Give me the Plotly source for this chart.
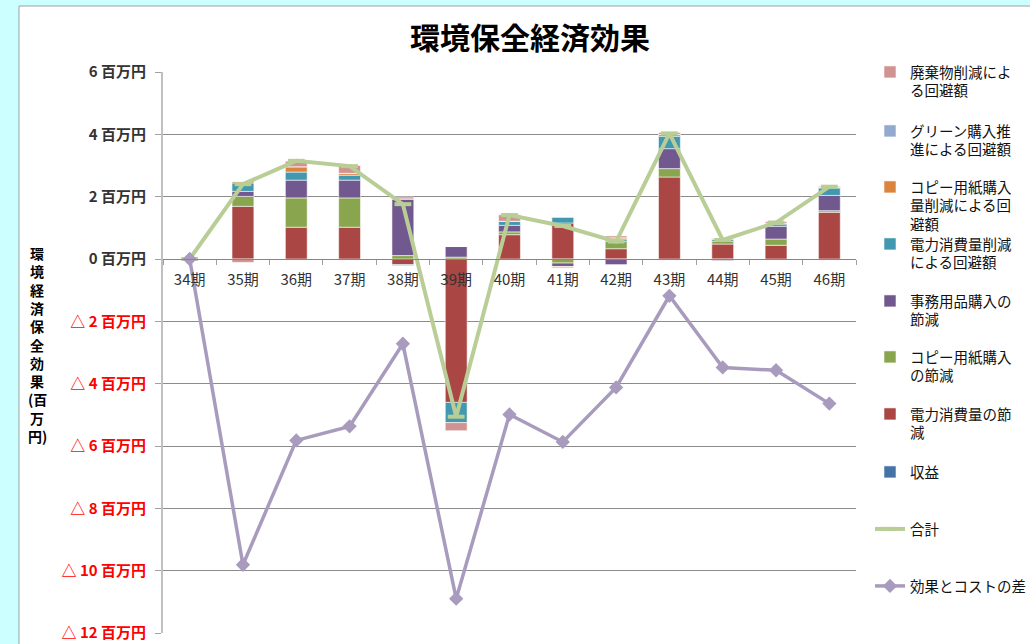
import plotly.graph_objects as go

categories = ["34期", "35期", "36期", "37期", "38期", "39期", "40期",
              "41期", "42期", "43期", "44期", "45期", "46期"]

revenue        = [0, 0, 0, 0, 0, 0, 0, 0, 0, 0, 0, 0, 0]
power_saving   = [0, 1.69, 1.02, 1.02, -0.18, -4.60, 0.78, 1.155, 0.33, 2.63, 0.48, 0.44, 1.50]
copy_saving    = [0, 0.32, 0.94, 0.94, 0.11, 0.06, 0.09, -0.13, 0.24, 0.27, 0.09, 0.20, 0.05]
office_saving  = [0, 0.16, 0.57, 0.57, 1.82, 0.34, 0.21, -0.11, -0.18, 0.64, -0.05, 0.41, 0.49]
power_avoid    = [0, 0.27, 0.26, 0.16, -0.03, -0.65, 0.13, 0.19, 0.07, 0.40, 0.07, 0.07, 0.24]
copy_avoid     = [0, 0.05, 0.17, 0.06, 0, 0, 0, -0.02, 0.04, 0.06, 0, 0.03, 0.02]
green_avoid    = [0, 0, 0, 0, 0, 0, 0, 0, 0, 0, 0.03, 0, 0]
waste_avoid    = [0, -0.11, 0.18, 0.25, 0.06, -0.26, 0.21, -0.03, 0.06, 0.06, 0, 0.05, 0.03]

total             = [0, 2.40, 3.15, 2.98, 1.76, -5.06, 1.41, 1.06, 0.56, 4.03, 0.61, 1.17, 2.32]
effect_minus_cost = [0, -9.81, -5.82, -5.37, -2.72, -10.90, -4.99, -5.87, -4.12, -1.18, -3.48, -3.57, -4.64]

tick_vals = [6, 4, 2, 0, -2, -4, -6, -8, -10, -12]
tick_text = ["6 百万円", "4 百万円", "2 百万円", "0 百万円",
             "△ 2 百万円", "△ 4 百万円", "△ 6 百万円", "△ 8 百万円",
             "△ 10 百万円", "△ 12 百万円"]

axis_title_chars = ["環", "境", "経", "済", "保", "全", "効", "果", "(百", "万", "円)"]

FONT = "Noto Sans CJK JP, Noto Sans, sans-serif"

W, H = 1030, 644
L, R, T, B = 163, 174, 72, 11
pw, ph = W - L - R, H - T - B


def px_x(x):
    return (x - L) / pw


def px_y(y):
    return (H - B - y) / ph


# (legend label, values, colour, legend slot top-line centre in px)
bar_series = [
    ("収益", revenue, "#4572A7", 473),
    ("電力消費量の節<br>減", power_saving, "#AA4643", 415),
    ("コピー用紙購入<br>の節減", copy_saving, "#89A54E", 358),
    ("事務用品購入の<br>節減", office_saving, "#71588F", 302),
    ("電力消費量削減<br>による回避額", power_avoid, "#4198AF", 245),
    ("コピー用紙購入<br>量削減による回<br>避額", copy_avoid, "#DB843D", 188),
    ("グリーン購入推<br>進による回避額", green_avoid, "#93A9CF", 132),
    ("廃棄物削減によ<br>る回避額", waste_avoid, "#D19392", 73),
]

fig = go.Figure()
legend_layouts = {}
LEG_OFFSET = 17
LEG_X = px_x(870)


def legend_cfg(center_px):
    return dict(x=LEG_X, y=px_y(center_px - LEG_OFFSET), xanchor="left", yanchor="top",
                valign="top", itemwidth=30, bgcolor="rgba(0,0,0,0)",
                font=dict(family=FONT, size=14.5, color="#111111"))


idx = 1
for name, vals, color, cy in bar_series:
    lname = "legend" if idx == 1 else f"legend{idx}"
    fig.add_trace(go.Bar(
        x=categories, y=vals, name=name, marker_color=color,
        marker_line=dict(color="rgba(255,255,255,0.7)", width=0.8),
        legend=lname,
    ))
    legend_layouts[lname] = legend_cfg(cy)
    idx += 1

fig.add_trace(go.Scatter(
    x=categories, y=total, name="合計", mode="lines+markers",
    line=dict(color="#B9CD96", width=4),
    marker=dict(symbol="line-ew", size=12, line=dict(color="#B9CD96", width=4)),
    legend=f"legend{idx}",
))
legend_layouts[f"legend{idx}"] = legend_cfg(530)
idx += 1
fig.add_trace(go.Scatter(
    x=categories, y=effect_minus_cost, name="効果とコストの差",
    mode="lines+markers",
    line=dict(color="#A99BBD", width=3.5),
    marker=dict(symbol="diamond", size=11, color="#A99BBD"),
    legend=f"legend{idx}",
))
legend_layouts[f"legend{idx}"] = legend_cfg(587)

ticktext_colored = ["<b>" + t + "</b>" if v >= 0
                    else "<span style='color:#FF0000'><b>" + t + "</b></span>"
                    for v, t in zip(tick_vals, tick_text)]

fig.update_layout(
    width=W, height=H,
    margin=dict(l=L, r=R, t=T, b=B, pad=0, autoexpand=False),
    paper_bgcolor="#CCFFFF", plot_bgcolor="#FFFFFF",
    barmode="relative", bargap=0.59,
    font=dict(family=FONT, size=15, color="#333333"),
    title=dict(text="<b>環境保全経済効果</b>", x=530 / W, xref="container",
               y=1 - 38 / H, yref="container", xanchor="center", yanchor="middle",
               font=dict(family=FONT, size=30, color="#000000")),
    showlegend=True,
    shapes=[dict(type="rect", xref="paper", yref="paper", layer="below",
                 x0=px_x(19), x1=px_x(W + 10),
                 y0=px_y(H + 10), y1=px_y(6),
                 fillcolor="#FFFFFF", line=dict(color="#A0A0A0", width=1))],
    xaxis=dict(type="category", anchor="free", position=12 / 18,
               showline=True, linecolor="#868686", linewidth=1,
               ticks="outside", ticklen=5, tickcolor="#A0A0A0", tickson="boundaries",
               showgrid=False, tickfont=dict(family=FONT, size=15, color="#333333"),
               ticklabelstandoff=7, range=[-0.5, 12.5]),
    yaxis=dict(range=[-12, 6], tickvals=tick_vals, ticktext=ticktext_colored,
               showgrid=True, gridcolor="#8C8C8C", gridwidth=1, zeroline=False,
               showline=True, linecolor="#C0C0C0", linewidth=2,
               ticks="outside", ticklen=6, tickcolor="#A0A0A0",
               tickfont=dict(family=FONT, size=15, color="#333333"),
               ticklabelstandoff=6),
    **legend_layouts,
)

for i, ch in enumerate(axis_title_chars):
    fig.add_annotation(text="<b>" + ch + "</b>", xref="paper", yref="paper",
                       x=px_x(37), y=px_y(253 + i * 18.3), showarrow=False,
                       xanchor="center", yanchor="middle",
                       font=dict(family=FONT, size=14, color="#000000"))

fig.write_html("out.html", config={"displayModeBar": False},
               post_script="document.body.style.margin='0';document.body.style.padding='0';")
